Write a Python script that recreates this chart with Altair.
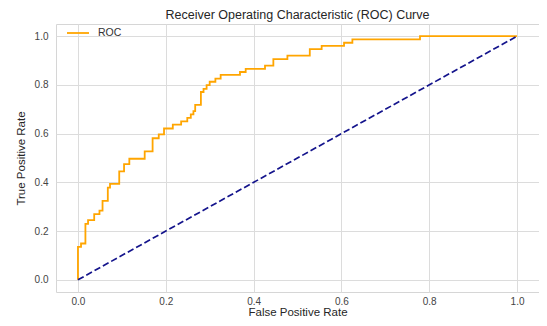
import altair as alt
import pandas as pd

# ROC step corners (top of each vertical jump)
fpr = [0.0, 0.0, 0.007, 0.017, 0.023, 0.037, 0.049, 0.056, 0.068, 0.073,
       0.094, 0.105, 0.117, 0.152, 0.170, 0.184, 0.196, 0.216, 0.235, 0.249,
       0.257, 0.263, 0.267, 0.280, 0.286, 0.293, 0.300, 0.313, 0.325, 0.369,
       0.382, 0.426, 0.445, 0.477, 0.528, 0.555, 0.606, 0.625, 0.779, 1.0]
tpr = [0.0, 0.135, 0.149, 0.230, 0.245, 0.270, 0.284, 0.324, 0.378, 0.394,
       0.445, 0.475, 0.497, 0.527, 0.581, 0.597, 0.621, 0.637, 0.650, 0.665,
       0.679, 0.692, 0.718, 0.771, 0.784, 0.799, 0.813, 0.826, 0.841, 0.853,
       0.866, 0.879, 0.906, 0.920, 0.947, 0.960, 0.973, 0.987, 1.0, 1.0]
diag_x = [0.0, 1.0]
diag_y = [0.0, 1.0]
ticks = [0.0, 0.2, 0.4, 0.6, 0.8, 1.0]

roc = pd.DataFrame({"fpr": fpr, "tpr": tpr, "idx": range(len(fpr)), "series": "ROC"})
diag = pd.DataFrame({"fpr": diag_x, "tpr": diag_y})

xscale = alt.Scale(domain=[-0.05, 1.05], nice=False, zero=False)
yscale = alt.Scale(domain=[-0.05, 1.05], nice=False, zero=False)

xaxis = alt.Axis(values=ticks, format=".1f", title="False Positive Rate",
                 labelPadding=4, titlePadding=0)
yaxis = alt.Axis(values=ticks, format=".1f", title="True Positive Rate",
                 labelPadding=8, titlePadding=8)

roc_line = alt.Chart(roc).mark_line(interpolate="step-after", strokeWidth=1.8).encode(
    x=alt.X("fpr:Q", scale=xscale, axis=xaxis),
    y=alt.Y("tpr:Q", scale=yscale, axis=yaxis),
    order="idx:Q",
    color=alt.Color("series:N", scale=alt.Scale(domain=["ROC"], range=["#FFA500"]),
                    legend=alt.Legend(title=None, orient="none", legendX=10, legendY=-3,
                                      symbolType="stroke", symbolSize=484,
                                      symbolStrokeWidth=1.8, labelFontSize=10.5,
                                      labelColor="#333333", labelFont="Liberation Sans",
                                      labelOffset=8, padding=0)),
)

diag_line = alt.Chart(diag).mark_line(color="#14148c", strokeWidth=1.7,
                                      strokeDash=[6.5, 3]).encode(
    x=alt.X("fpr:Q", scale=xscale),
    y=alt.Y("tpr:Q", scale=yscale),
)

chart = alt.layer(roc_line, diag_line).properties(
    width=483,
    height=268,
    title=alt.TitleParams("Receiver Operating Characteristic (ROC) Curve",
                          font="Liberation Sans", fontSize=12.5, fontWeight="normal",
                          color="#262626", offset=0),
    autosize=alt.AutoSizeParams(type="none"),
    padding={"left": 48, "top": 16, "right": 0, "bottom": 26},
).configure_view(
    stroke="#d6d6d6", strokeWidth=1
).configure_axis(
    grid=True, gridColor="#dcdcdc", gridWidth=1,
    domain=False, ticks=False,
    labelFont="Liberation Sans", labelFontSize=10, labelColor="#444444",
    titleFont="Liberation Sans", titleFontSize=11.5, titleFontWeight="normal",
    titleColor="#262626",
)

chart.save("out.html", embed_options={"renderer": "svg", "actions": False})
